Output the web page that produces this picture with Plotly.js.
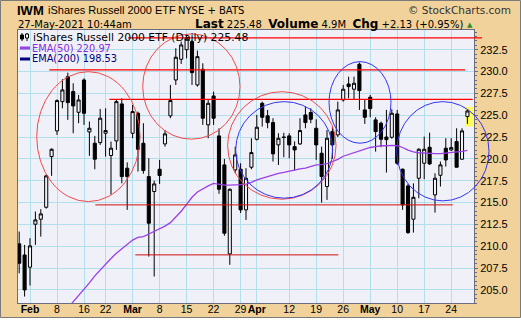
<!DOCTYPE html>
<html><head><meta charset="utf-8">
<script src="https://cdn.plot.ly/plotly-3.0.1.min.js"></script>
<style>html,body{margin:0;padding:0;background:#fff}#chart{width:521px;height:322px}</style>
</head><body><div id="chart"></div>
<script>
const dates = [
 "2021-01-28","2021-01-29",
 "2021-02-01","2021-02-02","2021-02-03","2021-02-04","2021-02-05",
 "2021-02-08","2021-02-09","2021-02-10","2021-02-11","2021-02-12",
 "2021-02-16","2021-02-17","2021-02-18","2021-02-19",
 "2021-02-22","2021-02-23","2021-02-24","2021-02-25","2021-02-26",
 "2021-03-01","2021-03-02","2021-03-03","2021-03-04","2021-03-05",
 "2021-03-08","2021-03-09","2021-03-10","2021-03-11","2021-03-12",
 "2021-03-15","2021-03-16","2021-03-17","2021-03-18","2021-03-19",
 "2021-03-22","2021-03-23","2021-03-24","2021-03-25","2021-03-26",
 "2021-03-29","2021-03-30","2021-03-31",
 "2021-04-01","2021-04-05","2021-04-06","2021-04-07","2021-04-08","2021-04-09",
 "2021-04-12","2021-04-13","2021-04-14","2021-04-15","2021-04-16",
 "2021-04-19","2021-04-20","2021-04-21","2021-04-22","2021-04-23",
 "2021-04-26","2021-04-27","2021-04-28","2021-04-29","2021-04-30",
 "2021-05-03","2021-05-04","2021-05-05","2021-05-06","2021-05-07",
 "2021-05-10","2021-05-11","2021-05-12","2021-05-13","2021-05-14",
 "2021-05-17","2021-05-18","2021-05-19","2021-05-20","2021-05-21",
 "2021-05-24","2021-05-25","2021-05-26","2021-05-27"
];
const openP = [
 210.27,209.00,
 207.60,212.52,213.09,214.46,220.26,
 223.20,226.55,229.41,227.70,225.33,
 229.03,223.08,221.79,221.86,
 222.93,220.38,222.05,226.29,218.93,
 222.93,225.22,221.79,217.97,216.26,
 218.81,221.71,224.92,229.03,231.40,
 232.50,233.42,228.46,230.25,223.89,
 227.20,222.63,219.31,209.12,218.73,
 218.81,214.16,219.04,
 222.24,226.36,224.92,224.15,221.60,222.50,
 222.63,221.40,221.71,225.03,225.30,
 223.50,220.64,216.83,223.12,222.74,
 226.74,228.57,227.97,230.83,225.60,
 227.05,224.46,224.08,222.50,222.47,
 225.14,218.81,216.90,213.09,217.78,
 219.50,221.33,215.88,218.12,221.22,
 221.02,221.98,219.96,224.84
];
const highP = [
 211.68,210.15,
 210.92,213.97,214.24,218.20,221.20,
 226.80,229.11,229.87,228.65,227.32,
 229.22,224.27,222.63,225.72,
 225.79,221.98,226.82,226.93,219.60,
 226.17,225.41,224.08,220.07,217.50,
 219.88,223.31,228.46,232.66,233.42,
 234.30,233.60,232.39,230.94,226.80,
 227.70,223.50,220.00,216.60,221.40,
 219.50,218.93,222.36,
 225.03,226.55,225.60,224.65,222.93,222.98,
 222.93,222.00,224.65,225.98,225.79,
 224.53,221.40,223.31,223.69,226.55,
 228.46,229.41,229.41,231.02,226.74,
 227.32,224.76,224.27,225.60,225.68,
 225.60,218.90,217.13,217.20,221.22,
 222.55,223.00,218.35,219.69,222.36,
 222.36,223.50,223.50,225.68
];
const lowP = [
 206.90,204.24,
 205.50,210.15,211.10,214.30,218.05,
 222.74,225.79,224.46,222.93,224.08,
 223.89,220.34,218.81,221.60,
 220.26,215.92,221.03,217.20,214.16,
 222.36,218.55,218.30,208.82,206.53,
 217.13,221.40,224.65,228.46,230.86,
 231.50,228.46,228.27,223.89,222.36,
 223.89,216.00,211.20,207.87,218.35,
 213.80,213.01,218.81,
 222.10,223.69,223.50,219.69,219.30,220.18,
 220.07,218.66,221.60,223.50,224.08,
 219.88,214.99,215.30,220.00,222.50,
 226.55,226.93,226.82,225.60,224.00,
 224.76,220.83,221.33,218.43,222.30,
 219.31,214.16,211.41,211.56,215.49,
 217.67,219.31,213.85,216.83,219.12,
 220.90,219.04,219.90,224.00
];
const closeP = [
 208.05,205.00,
 210.04,213.01,213.70,218.05,221.10,
 226.67,227.89,226.44,226.06,226.74,
 225.22,223.50,219.96,224.65,
 223.24,221.22,226.55,217.97,217.97,
 225.41,221.10,218.66,212.63,217.13,
 218.09,222.86,226.67,231.63,233.04,
 233.80,229.87,231.70,224.65,226.36,
 224.65,216.52,211.49,216.52,220.45,
 214.16,217.78,220.72,
 223.62,224.76,224.15,220.57,222.36,222.45,
 221.60,221.02,223.24,224.15,224.53,
 221.60,217.97,222.36,221.60,225.60,
 227.97,228.27,228.65,227.81,224.76,
 225.75,223.12,222.24,222.20,225.22,
 219.50,214.73,211.56,215.60,221.10,
 221.10,219.42,217.78,219.31,219.88,
 221.29,219.04,223.20,225.48
];
const ema50 = [
 null,null,
 null,null,null,null,null,
 null,202.20,202.90,203.60,204.30,
 205.00,205.80,206.60,207.30,
 208.00,208.60,209.20,209.70,210.20,
 210.70,211.00,211.10,211.40,211.70,
 212.00,212.30,212.70,213.30,214.00,
 214.80,215.60,216.20,216.60,216.90,
 217.20,217.10,217.00,217.00,217.00,
 217.05,217.10,217.30,
 217.60,217.80,218.00,218.20,218.35,218.45,
 218.60,218.75,218.85,218.95,219.10,
 219.30,219.35,219.45,219.70,219.95,
 220.30,220.50,220.70,220.95,221.10,
 221.30,221.40,221.50,221.50,221.55,
 221.50,221.30,221.00,220.80,220.70,
 220.65,220.60,220.60,220.60,220.65,
 220.70,220.80,220.85,220.97
];
const xTickDates = ["2021-02-01","2021-02-08","2021-02-16","2021-02-22","2021-03-01","2021-03-08","2021-03-15","2021-03-22","2021-03-29","2021-04-01","2021-04-12","2021-04-19","2021-04-26","2021-05-03","2021-05-10","2021-05-17","2021-05-24"];
const xTickLabels = ["<b>Feb</b>","8","16","22","<b>Mar</b>","8","15","22","29","<b>Apr</b>","12","19","26","<b>May</b>","10","17","24"];
const yTicks = [205,207.5,210,212.5,215,217.5,220,222.5,225,227.5,230,232.5];

const W=521,H=322, L=18, R=474, T=30, B=303;
const px = x => (x-L)/(R-L);
const py = y => (B-y)/(B-T);

const candles = {
  type:'candlestick', x:dates, open:openP, high:highP, low:lowP, close:closeP,
  increasing:{line:{color:'#000',width:1}, fillcolor:'#F0F0F8'},
  decreasing:{line:{color:'#000',width:1}, fillcolor:'#000'},
  whiskerwidth:0, hoverinfo:'skip', showlegend:false
};
const emaTrace = {
  type:'scatter', mode:'lines', x:dates, y:ema50,
  line:{color:'#9B3FE6', width:1.3}, hoverinfo:'skip', showlegend:false
};

const red='#FF0000', blue='#3434F2', circRed='#F24A4A';
const shapes = [
  {type:'rect', xref:'x', yref:'y', x0:82.6, x1:84.0, y0:223.7, y1:225.95, fillcolor:'#FFFF55', line:{width:0}, layer:'between'},
  {type:'line', xref:'paper', yref:'y', x0:px(128), x1:px(482), y0:233.84, y1:233.84, line:{color:red,width:1.3}},
  {type:'line', xref:'x', yref:'y', x0:5.57, x1:82.56, y0:230.18, y1:230.18, line:{color:red,width:1.3}},
  {type:'line', xref:'x', yref:'y', x0:16.69, x1:83.98, y0:226.82, y1:226.82, line:{color:red,width:1.3}},
  {type:'line', xref:'x', yref:'y', x0:14.1, x1:80.27, y0:214.73, y1:214.73, line:{color:'#D01010',width:1}},
  {type:'line', xref:'x', yref:'y', x0:21.5, x1:59.1, y0:209.01, y1:209.01, line:{color:'#D01010',width:1}},
  {type:'circle', xref:'x', yref:'y', x0:3.24, x1:22.37, y0:215.11, y1:229.98, line:{color:circRed,width:1}},
  {type:'circle', xref:'x', yref:'y', x0:22.87, x1:40.89, y0:222.25, y1:234.3, line:{color:circRed,width:1}},
  {type:'circle', xref:'x', yref:'y', x0:38.6, x1:58.67, y0:215.38, y1:227.69, line:{color:circRed,width:1}},
  {type:'circle', xref:'x', yref:'y', x0:40.09, x1:58.05, y0:215.5, y1:226.55, line:{color:blue,width:1}},
  {type:'circle', xref:'x', yref:'y', x0:57.37, x1:68.85, y0:221.79, y1:231.13, line:{color:blue,width:1}},
  {type:'circle', xref:'paper', yref:'y', x0:px(396.7), x1:px(489), y0:215.19, y1:226.55, line:{color:blue,width:1}},
  {type:'line', xref:'paper', yref:'paper', x0:px(20), x1:px(30), y0:py(48), y1:py(48), line:{color:'#9B3FE6',width:3}},
  {type:'line', xref:'paper', yref:'paper', x0:px(20), x1:px(30), y0:py(59), y1:py(59), line:{color:'#000080',width:3}},
  {type:'line', xref:'paper', yref:'paper', x0:px(22), x1:px(22), y0:py(33), y1:py(41), line:{color:'#000',width:1}},
  {type:'rect', xref:'paper', yref:'paper', x0:px(20.5), x1:px(23.5), y0:py(35), y1:py(39), fillcolor:'#000', line:{color:'#000',width:1}},
  {type:'line', xref:'paper', yref:'paper', x0:px(27), x1:px(27), y0:py(33), y1:py(41), line:{color:'#000',width:1}},
  {type:'rect', xref:'paper', yref:'paper', x0:px(25.5), x1:px(28.5), y0:py(34), y1:py(38), fillcolor:'#fff', line:{color:'#000',width:1}},
  // outer frame: white strip below and gray border
  {type:'rect', xref:'paper', yref:'paper', x0:px(-2), x1:px(523), y0:py(318), y1:py(324), fillcolor:'#FFFFFF', line:{width:0}},
  {type:'rect', xref:'paper', yref:'paper', x0:px(0.5), x1:px(520.5), y0:py(0.5), y1:py(317.5), fillcolor:'rgba(0,0,0,0)', line:{color:'#7A7A7A',width:1}}
];

const fH = "Liberation Sans, Arial, sans-serif";
const fV = "DejaVu Sans, Verdana, sans-serif";
const ann = (x,y,text,opts) => Object.assign({xref:'paper',yref:'paper',x:px(x),y:py(y),text,showarrow:false,xanchor:'left',yanchor:'middle',font:{family:fV,size:10,color:'#000'}},opts||{});
const annotations = [
  ann(15,10,'<b>IWM</b>',{font:{family:fH,size:13,color:'#000'}}),
  ann(46,10,'iShares Russell 2000 ETF',{font:{family:fH,size:11,color:'#000'}}),
  ann(176,10,'NYSE + BATS',{font:{family:fV,size:10,color:'#000'}}),
  ann(513,10,'© StockCharts.com',{xanchor:'right',font:{family:fV,size:10.5,color:'#333'}}),
  ann(16,24,'27-May-2021 10:44am',{font:{family:fV,size:10,color:'#000'}}),
  ann(465,24,'<b><span style="font-size:12px">Last</span></b> 225.48  <b><span style="font-size:12px">Volume</span></b> 4.9M  <b><span style="font-size:12px">Chg</span></b> +2.13 (+0.95%)',{xanchor:'right',font:{family:fV,size:10,color:'#000'}}),
  ann(470,25,'▲',{xanchor:'center',font:{family:fV,size:7,color:'#2E8B2E'}}),
  ann(31,37,'iShares Russell 2000 ETF (Daily) 225.48',{font:{family:fV,size:10.8,color:'#000'}}),
  ann(30,48,'EMA(50) 220.97',{font:{family:fV,size:9.8,color:'#8A2BE2'}}),
  ann(30,59,'EMA(200) 198.53',{font:{family:fV,size:9.8,color:'#000080'}})
];

const layout = {
  width:W, height:H,
  margin:{l:L, r:W-R, t:T, b:H-B, pad:0},
  paper_bgcolor:'#F0D29A', plot_bgcolor:'#F0F0F8',
  showlegend:false, boxgap:0.18,
  xaxis:{type:'category', range:[-0.222,84.22], tickmode:'array', tickvals:xTickDates, ticktext:xTickLabels,
    tickangle:0, showgrid:true, gridcolor:'#B2DFEC', gridwidth:1, rangeslider:{visible:false},
    showline:true, mirror:true, linecolor:'#6C6C80', linewidth:1, ticks:'', ticklabelstandoff:-4,
    tickfont:{family:fH,size:10.5,color:'#000'}, fixedrange:true, zeroline:false},
  yaxis:{side:'right', range:[203.5,234.75], tickmode:'array', tickvals:yTicks,
    ticktext:yTicks.map(v=>v.toFixed(1)),
    showgrid:true, gridcolor:'#B2DFEC', gridwidth:1,
    showline:true, mirror:true, linecolor:'#6C6C80', linewidth:1,
    ticks:'outside', ticklen:3, tickcolor:'#6C6C80',
    minor:{dtick:0.5, ticks:'outside', ticklen:1.5, tickcolor:'#6C6C80', showgrid:false},
    tickfont:{family:fH,size:11,color:'#000'}, fixedrange:true, zeroline:false},
  shapes, annotations
};
Plotly.newPlot('chart',[emaTrace,candles],layout,{staticPlot:true});
</script>
</body></html>
